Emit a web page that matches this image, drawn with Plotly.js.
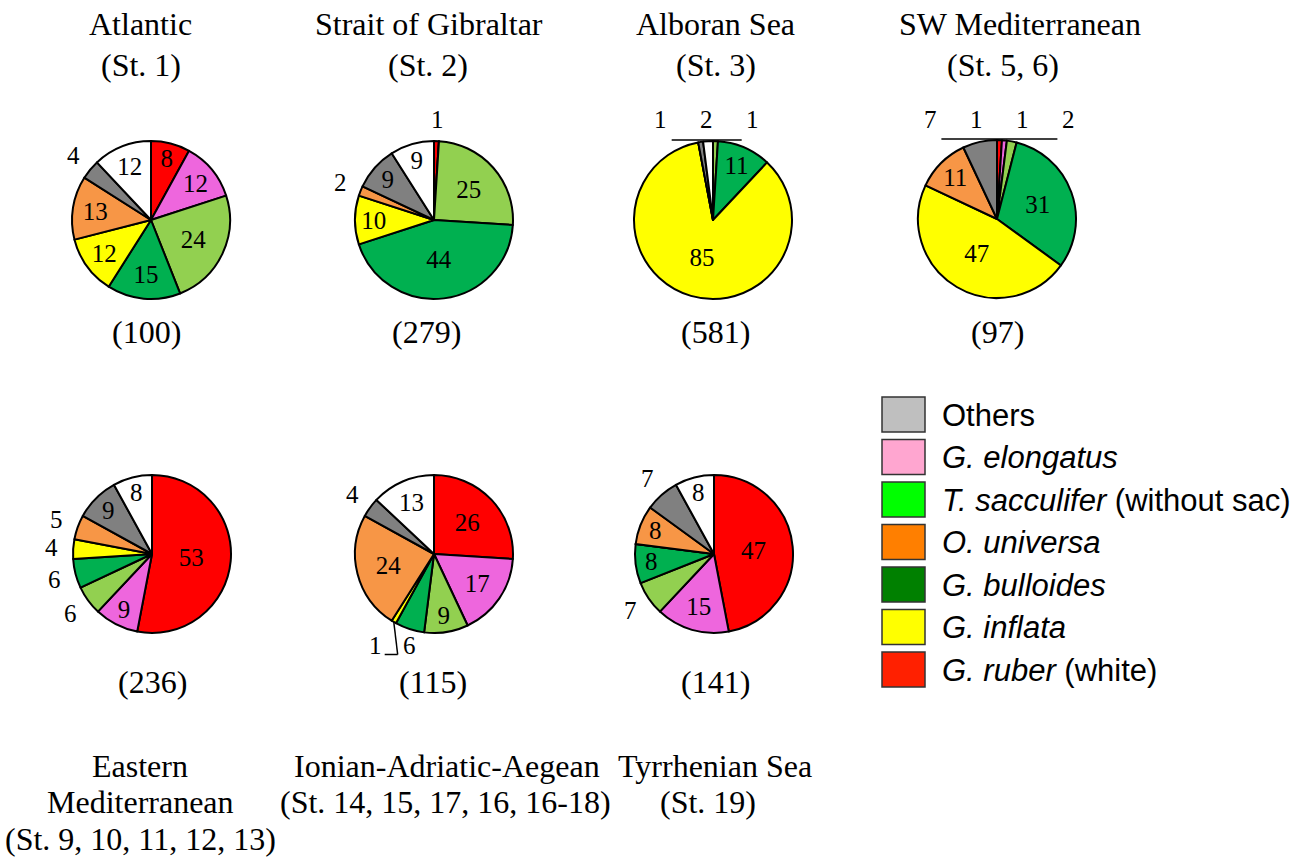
<!DOCTYPE html>
<html><head><meta charset="utf-8">
<script src="https://cdn.plot.ly/plotly-3.0.1.min.js"></script>
<style>html,body{margin:0;padding:0;background:#fff}#chart{width:1307px;height:860px}</style>
</head><body><div id="chart"></div>
<script>
// ---- data ----
const species = ['G. ruber (white)', 'G. elongatus', 'T. sacculifer (without sac)', 'G. bulloides', 'G. inflata', 'O. universa', 'Others', 'Unassigned'];
const regionNames = ['Atlantic', 'Strait of Gibraltar', 'Alboran Sea', 'SW Mediterranean', 'Eastern Mediterranean', 'Ionian-Adriatic-Aegean', 'Tyrrhenian Sea'];
const stationCodes = ['(St. 1)', '(St. 2)', '(St. 3)', '(St. 5, 6)', '(St. 9, 10, 11, 12, 13)', '(St. 14, 15, 17, 16, 16-18)', '(St. 19)'];
const sampleCounts = [100, 279, 581, 97, 236, 115, 141];
const atlantic   = [8, 12, 24, 15, 12, 13, 4, 12];
const gibraltar  = [1, 0, 25, 44, 10, 2, 9, 9];
const alboran    = [0, 0, 1, 11, 85, 0, 1, 2];
const swMed      = [1, 1, 2, 31, 47, 11, 7, 0];
const easternMed = [53, 9, 6, 6, 4, 5, 9, 8];
const ionian     = [26, 17, 9, 6, 1, 24, 4, 13];
const tyrrhenian = [47, 15, 7, 8, 0, 8, 7, 8];
const legendLabels = ['Others', 'G. elongatus', 'T. sacculifer (without sac)', 'O. universa', 'G. bulloides', 'G. inflata', 'G. ruber (white)'];

// ---- styles ----
const sliceColors = ['#FF0000', '#EE66DD', '#92D050', '#00B050', '#FFFF00', '#F79646', '#808080', '#FFFFFF'];
const legendColors = ['#BFBFBF', '#FFA6D0', '#00FF00', '#FF7F00', '#008000', '#FFFF00', '#FF2000'];
const W = 1307, H = 860;
const serif = 'Liberation Serif, Times New Roman, serif';
const sans = 'Liberation Sans, Arial, sans-serif';
const seriesList = [atlantic, gibraltar, alboran, swMed, easternMed, ionian, tyrrhenian];
const pieCenters = [[151, 220], [434, 220], [713, 220], [997, 219], [152, 554], [434, 554], [714, 554]];
const R = 79;          // pie radius in px
const INSIDE_MIN = 8;  // slices below this get an outside label
const LR = 101;        // outside label radius
const MIN_D = 28, SP_TOP = 46, SP_SIDE = 34;
const px = x => x / W, py = y => 1 - y / H;

const traces = seriesList.map((vals, i) => {
  const [cx, cy] = pieCenters[i];
  return {
    type: 'pie',
    labels: species,
    values: vals,
    sort: false,
    direction: 'clockwise',
    rotation: 0,
    text: vals.map(v => v > 0 ? String(v) : ''),
    textinfo: 'text',
    textposition: vals.map(v => v >= INSIDE_MIN ? 'inside' : 'none'),
    insidetextorientation: 'horizontal',
    textfont: {family: serif, size: 25, color: '#000'},
    insidetextfont: {family: serif, size: 25, color: '#000'},
    marker: {colors: sliceColors, line: {color: '#000', width: 2}},
    hoverinfo: 'label+value',
    showlegend: false,
    domain: {x: [px(cx - R), px(cx + R)], y: [py(cy + R), py(cy - R)]}
  };
});

const annotations = [];
const shapes = [];
function addText(text, x, y, size, font, xanchor) {
  annotations.push({text: text, x: px(x), y: py(y), xref: 'paper', yref: 'paper',
    xanchor: xanchor || 'center', yanchor: 'middle', showarrow: false,
    font: {family: font || serif, size: size || 32, color: '#000'}});
}
function addLine(x0, y0, x1, y1) {
  shapes.push({type: 'line', xref: 'paper', yref: 'paper', x0: px(x0), y0: py(y0), x1: px(x1), y1: py(y1),
    line: {color: '#000', width: 1.5}});
}

// outside labels for small slices, derived from the slice angles
seriesList.forEach((vals, i) => {
  const [cx, cy] = pieCenters[i];
  const total = vals.reduce((a, b) => a + b, 0);
  let cum = 0;
  const items = [];
  vals.forEach(v => {
    if (v > 0 && v < INSIDE_MIN) {
      const a0 = cum / total * 2 * Math.PI, a1 = (cum + v) / total * 2 * Math.PI;
      let th = (a0 + a1) / 2;
      if (th > Math.PI) th -= 2 * Math.PI;
      items.push({v: v, th: th, a0: a0, a1: a1, nx: cx + LR * Math.sin(th), ny: cy - LR * Math.cos(th)});
    }
    cum += v;
  });
  items.sort((a, b) => a.th - b.th);
  const groups = [];
  items.forEach(it => {
    const g = groups[groups.length - 1];
    if (g) {
      const last = g[g.length - 1];
      if (Math.hypot(it.nx - last.nx, it.ny - last.ny) < MIN_D) { g.push(it); return; }
    }
    groups.push([it]);
  });
  groups.forEach(g => {
    const n = g.length;
    const thm = g.reduce((a, b) => a + b.th, 0) / n;
    const mx = g.reduce((a, b) => a + b.nx, 0) / n;
    const my = g.reduce((a, b) => a + b.ny, 0) / n;
    const top = Math.abs(thm) < 0.5;
    const sp = top ? SP_TOP : SP_SIDE;
    // order left-to-right on screen
    const ordered = g.slice().sort((a, b) => a.nx - b.nx);
    ordered.forEach((it, j) => {
      it.x = n > 1 ? mx + (j - (n - 1) / 2) * sp : it.nx;
      it.y = n > 1 ? my : it.ny;
      addText(String(it.v), it.x, it.y, 25);
    });
    if (n > 1 && top) {
      // bracket line along the top of the pie under the grouped labels
      addLine(ordered[0].x + 11, cy - R - 1, ordered[n - 1].x - 11, cy - R - 1);
    } else if (n > 1) {
      ordered.forEach(it => {
        let ang = Math.atan2(it.x - cx, -(it.y - cy));
        if (ang < 0) ang += 2 * Math.PI;
        if (ang < it.a0 || ang > it.a1) {
          const thm2 = (it.a0 + it.a1) / 2;
          const ex = cx + R * Math.sin(thm2), ey = cy - R * Math.cos(thm2);
          const ky = it.y + 9;
          addLine(it.x + 9, ky, it.x + 22, ky);
          addLine(it.x + 22, ky, ex, ey);
        }
      });
    }
  });
});

// top-row titles
const topTitleX = [[140, 141], [429, 428], [716, 716], [1020, 1003]];
for (let i = 0; i < 4; i++) {
  addText(regionNames[i], topTitleX[i][0], 24);
  addText(stationCodes[i], topTitleX[i][1], 65);
}
// counts
const countPos = [[146, 332], [426, 332], [716, 332], [997, 332], [152, 682], [433, 682], [715, 682]];
sampleCounts.forEach((c, i) => addText('(' + c + ')', countPos[i][0], countPos[i][1]));
// bottom-row titles
addText('Eastern', 140, 766);
addText('Mediterranean', 140, 802);
addText(stationCodes[4], 140, 839);
addText(regionNames[5], 447, 766);
addText(stationCodes[5], 445, 802);
addText(regionNames[6], 715, 766);
addText(stationCodes[6], 708, 802);

// legend (drawn manually: its swatch colours differ from the slice colours)
legendLabels.forEach((lab, i) => {
  const y0 = 397 + i * 42.5;
  shapes.push({type: 'rect', xref: 'paper', yref: 'paper',
    x0: px(882), x1: px(925), y0: py(y0), y1: py(y0 + 35),
    fillcolor: legendColors[i], line: {color: '#333', width: 1.5}});
  let html;
  const m = lab.match(/^(\S+ \S+?)( \(.*\))?$/);
  if (lab === 'Others') html = 'Others';
  else html = '<i>' + m[1] + '</i>' + (m[2] || '');
  addText(html, 940, y0 + 18, 31, sans, 'left');
});

Plotly.newPlot('chart', traces, {
  width: W, height: H,
  margin: {l: 0, r: 0, t: 0, b: 0},
  paper_bgcolor: '#fff', plot_bgcolor: '#fff',
  annotations: annotations, shapes: shapes,
  showlegend: false
}, {displayModeBar: false, staticPlot: true});
</script></body></html>
